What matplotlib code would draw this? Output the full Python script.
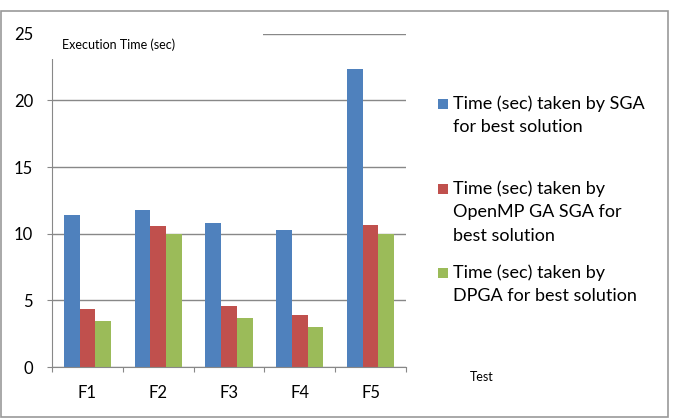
import numpy as np
import matplotlib.pyplot as plt
from matplotlib.patches import Rectangle

plt.rcParams['font.family'] = ['Lato', 'DejaVu Sans']

# dane
tests = ['F1', 'F2', 'F3', 'F4', 'F5']
sga = [11.4, 11.78, 10.78, 10.3, 22.38]
openmp = [4.33, 10.6, 4.6, 3.93, 10.68]
dpga = [3.45, 10.0, 3.65, 3.0, 10.0]
series_names = ['Time (sec) taken by SGA\nfor best solution',
                'Time (sec) taken by\nOpenMP GA SGA for\nbest solution',
                'Time (sec) taken by\nDPGA for best solution']
colors = ['#4F81BD', '#C0504D', '#9BBB59']

W, H = 677, 420
fig = plt.figure(figsize=(W / 100, H / 100), dpi=100)
ax = fig.add_axes([52 / W, 1 - 367 / H, (406 - 52) / W, (367 - 33.7) / H])

x = np.arange(len(tests)) + 0.5
bw = 0.222
for i, (vals, c) in enumerate(zip([sga, openmp, dpga], colors)):
    ax.bar(x + (i - 1) * bw, vals, bw, color=c, zorder=2)

ax.set_xlim(0, len(tests))
ax.set_ylim(0, 25)
ax.set_yticks([0, 5, 10, 15, 20, 25])
ax.set_xticks(np.arange(len(tests) + 1))
ax.set_xticklabels([])
ax.set_xticks(x, minor=True)
ax.set_xticklabels(tests, minor=True)
ax.tick_params(axis='x', which='minor', length=0, pad=13, labelsize=12)
ax.tick_params(axis='x', which='major', length=3.6, color='#888888', direction='out')
ax.tick_params(axis='y', length=3.6, color='#888888', labelsize=12, pad=10)
ax.yaxis.grid(True, color='#888888', linewidth=1, zorder=0)
ax.set_axisbelow(True)
for s in ['top', 'right']:
    ax.spines[s].set_visible(False)
ax.spines['left'].set_color('#888888')
ax.spines['bottom'].set_color('#888888')
ax.spines['left'].set_bounds(0, 23.1)

# biały prostokąt pod tytułem osi (jak w Excelu)
fig.patches.append(Rectangle((40 / W, 1 - 59 / H), (263 - 40) / W, 34 / H,
                             transform=fig.transFigure, facecolor='white',
                             edgecolor='none', zorder=5))
fig.text(62 / W, 1 - 45 / H, 'Execution Time (sec)', fontsize=9,
         va='center', ha='left', zorder=6)
fig.text(470 / W, 1 - 377 / H, 'Test', fontsize=9, va='center', ha='left')

# legenda
leg_y = [104, 189, 273]
for name, c, yy in zip(series_names, colors, leg_y):
    fig.patches.append(Rectangle((438 / W, 1 - (yy + 5) / H), 10 / W, 10 / H,
                                 transform=fig.transFigure, facecolor=c,
                                 edgecolor='none'))
    fig.text(453 / W, 1 - (yy - 9) / H, name, fontsize=13, va='top',
             ha='left', linespacing=1.6)

# ramka wykresu
fig.patches.append(Rectangle((1 / W, 1 - 417 / H), 667 / W, 406 / H,
                             transform=fig.transFigure, facecolor='none',
                             edgecolor='#999999', linewidth=1.2))

fig.savefig('out.png', dpi=100)
